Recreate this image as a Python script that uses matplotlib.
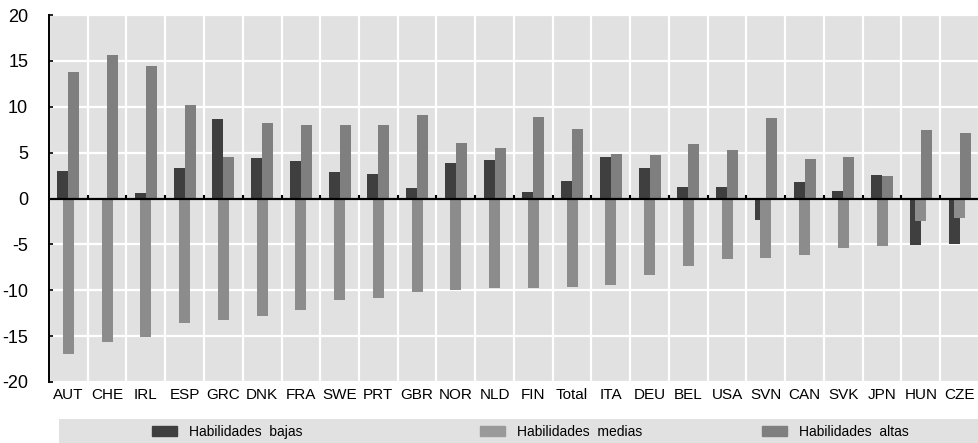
import numpy as np
import matplotlib.pyplot as plt
from matplotlib.patches import Patch, Rectangle

plt.rcParams['font.family'] = ['Liberation Sans', 'DejaVu Sans']
plt.rcParams['axes.unicode_minus'] = False

paises = ['AUT', 'CHE', 'IRL', 'ESP', 'GRC', 'DNK', 'FRA', 'SWE', 'PRT', 'GBR', 'NOR', 'NLD',
          'FIN', 'Total', 'ITA', 'DEU', 'BEL', 'USA', 'SVN', 'CAN', 'SVK', 'JPN', 'HUN', 'CZE']
bajas = [3.0, 0.0, 0.6, 3.3, 8.7, 4.4, 4.1, 2.9, 2.7, 1.1, 3.9, 4.2,
         0.7, 1.9, 4.5, 3.3, 1.3, 1.2, -2.3, 1.8, 0.8, 2.6, -5.1, -5.0]
medias = [-16.9, -15.6, -15.1, -13.6, -13.2, -12.8, -12.1, -11.1, -10.8, -10.2, -10.0, -9.8,
          -9.8, -9.6, -9.4, -8.3, -7.4, -6.6, -6.5, -6.2, -5.4, -5.2, -2.5, -2.1]
altas = [13.8, 15.6, 14.4, 10.2, 4.5, 8.2, 8.0, 8.0, 8.0, 9.1, 6.1, 5.5,
         8.9, 7.6, 4.8, 4.7, 5.9, 5.3, 8.8, 4.3, 4.5, 2.5, 7.5, 7.1]

c_bajas = '#3f3f3f'
c_medias = '#8c8c8c'
c_altas = '#7f7f7f'
fondo = '#e1e1e1'

W, H = 979, 443
fig = plt.figure(figsize=(W / 100, H / 100), dpi=100)
ax = fig.add_axes([49 / W, 1 - 382 / H, 930 / W, 367 / H])
ax.set_facecolor(fondo)

x = np.arange(len(paises))
w = 0.284
off = 0.142
ax.bar(x - off, bajas, width=w, color=c_bajas, zorder=3)
ax.bar(x, medias, width=w, color=c_medias, zorder=3)
ax.bar(x + off, altas, width=w, color=c_altas, zorder=3)

ax.set_xlim(-0.5, len(paises) - 0.5)
ax.set_ylim(-20, 20)

# rejilla blanca: horizontal cada 5, vertical entre categorias
limites = np.arange(len(paises) + 1) - 0.5
ax.set_xticks(x)
ax.set_xticks(limites, minor=True)
ax.set_yticks(np.arange(-20, 21, 5))
ax.grid(which='minor', axis='x', color='white', lw=1.6, zorder=1)
ax.grid(which='major', axis='y', color='white', lw=1.6, zorder=1)

ax.axhline(0, color='black', lw=1.6, zorder=4)
ax.vlines(limites[1:-1], 0, 0.35, color='black', lw=1.5, zorder=4)

ax.set_xticklabels(paises, fontsize=11)
ax.tick_params(axis='x', which='both', length=0, pad=4)
ax.tick_params(axis='y', direction='in', length=3, width=1.2, labelsize=13, pad=15)

for lado in ['top', 'right', 'bottom']:
    ax.spines[lado].set_visible(False)
ax.spines['left'].set_linewidth(1.4)

# leyenda en una franja gris bajo el grafico
fig.patches.append(Rectangle((59 / W, 0), 920 / W, 24 / H, transform=fig.transFigure,
                             facecolor=fondo, edgecolor='none', zorder=0))
entradas = [(c_bajas, 'Habilidades  bajas', 152),
            ('#9a9a9a', 'Habilidades  medias', 480),
            (c_altas, 'Habilidades  altas', 762)]
for color, texto, xpos in entradas:
    fig.legend([Patch(color=color)], [texto], loc='center left',
               bbox_to_anchor=(xpos / W, 1 - 432 / H), frameon=False, fontsize=10,
               handlelength=1.8, handleheight=0.65, handletextpad=0.85,
               borderpad=0, borderaxespad=0)

fig.savefig('out.png', dpi=100)
